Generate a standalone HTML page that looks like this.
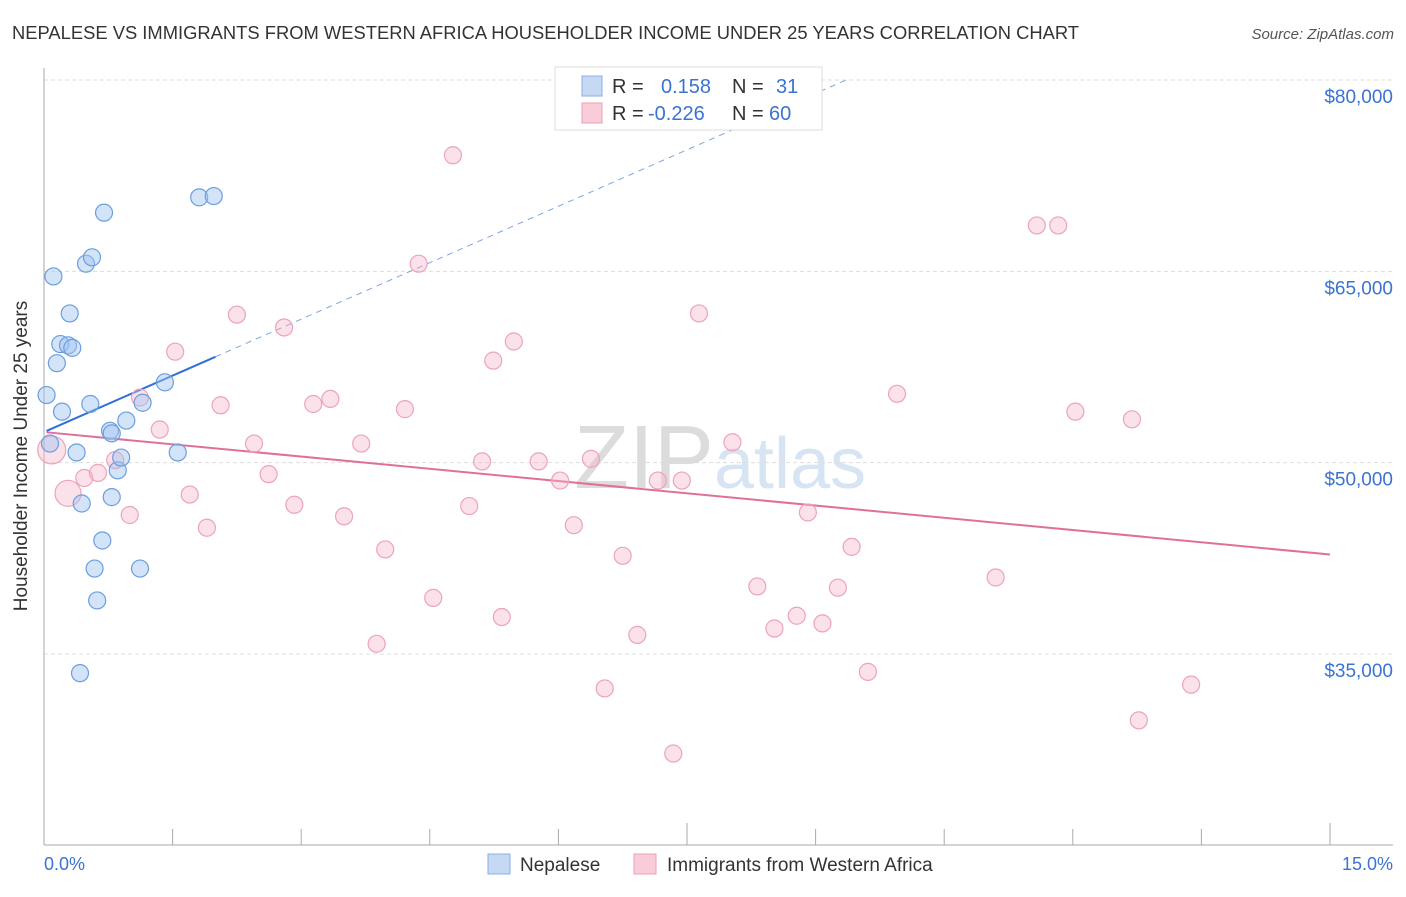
<!DOCTYPE html>
<html><head><meta charset="utf-8"><style>
body{margin:0;background:#fff;font-family:"Liberation Sans",sans-serif;}
svg text{font-family:"Liberation Sans",sans-serif;}
</style></head><body>
<svg width="1406" height="892" xmlns="http://www.w3.org/2000/svg">
<text x="12" y="39" font-size="18" fill="#333" textLength="1067" lengthAdjust="spacingAndGlyphs">NEPALESE VS IMMIGRANTS FROM WESTERN AFRICA HOUSEHOLDER INCOME UNDER 25 YEARS CORRELATION CHART</text>
<text x="1394" y="39" font-size="15" fill="#555" font-style="italic" text-anchor="end">Source: ZipAtlas.com</text>
<text x="720" y="488" font-size="90" fill="#e8e8e8" text-anchor="middle" font-family="Liberation Serif"><tspan fill="#dcdcdc">ZIP</tspan><tspan fill="#d6e4f4" font-family="Liberation Sans" font-size="72">atlas</tspan></text>
<g id="grid"></g>
<line x1="44" y1="68" x2="44" y2="845" stroke="#aaa"/>
<line x1="44" y1="845" x2="1393" y2="845" stroke="#aaa"/>
<g id="ticks"></g>
<text x="27" y="456" font-size="19" fill="#333" text-anchor="middle" transform="rotate(-90 27 456)">Householder Income Under 25 years</text>
<text x="44" y="870" font-size="18" fill="#3a73d1">0.0%</text>
<text x="1393" y="870" font-size="18" fill="#3a73d1" text-anchor="end">15.0%</text>
<g id="lines"></g>
<g id="points"></g>
<g>
<rect x="555" y="67" width="267" height="63" fill="#fff" stroke="#ddd"/>
<rect x="582" y="76" width="20" height="20" fill="#c5d9f4" stroke="#8ab0e6"/>
<rect x="582" y="103" width="20" height="20" fill="#f9ccd9" stroke="#eaa0b6"/>
<text x="612" y="93" font-size="20" fill="#333">R = <tspan fill="#3a73d1" x="661">0.158</tspan><tspan x="732">N = </tspan><tspan fill="#3a73d1" x="776">31</tspan></text>
<text x="612" y="120" font-size="20" fill="#333">R = <tspan fill="#3a73d1" x="648">-0.226</tspan><tspan x="732">N = </tspan><tspan fill="#3a73d1" x="769">60</tspan></text>
</g>
<g>
<rect x="488" y="854" width="22" height="20" fill="#c5d9f4" stroke="#8ab0e6"/>
<text x="520" y="871" font-size="19" fill="#333">Nepalese</text>
<rect x="634" y="854" width="22" height="20" fill="#f9ccd9" stroke="#eaa0b6"/>
<text x="667" y="871" font-size="19" fill="#333">Immigrants from Western Africa</text>
</g>
</svg>
<script>
const yTicks=[80000,65000,50000,35000];
const yTickLabels=["$80,000","$65,000","$50,000","$35,000"];
const xTicks=[0,1.5,3,4.5,6,7.5,9,10.5,12,13.5,15];
const nepX=[0.03,0.11,0.15,0.21,0.30,0.19,0.28,0.33,0.38,0.44,0.49,0.56,0.54,0.59,0.62,0.68,0.70,0.77,0.79,0.79,0.86,0.90,0.96,1.12,1.15,1.41,1.56,0.42,1.81,1.98,0.07];
const nepY=[55300,64600,57800,54000,61700,59300,59200,59000,50800,46800,65600,66100,54600,41700,39200,43900,69600,52500,47300,52300,49400,50400,53300,41700,54700,56300,50800,33500,70800,70900,51500];
const wafX=[0.09,0.28,0.47,0.63,0.83,1.00,1.12,1.35,1.53,1.70,1.90,2.06,2.25,2.45,2.62,2.80,2.92,3.14,3.34,3.50,3.70,3.88,3.98,4.21,4.37,4.54,4.77,4.96,5.11,5.24,5.34,5.48,5.77,6.02,6.18,6.38,6.54,6.75,6.92,7.16,7.44,7.64,8.03,8.32,8.52,8.78,8.91,9.08,9.26,9.42,9.61,9.95,11.10,11.58,11.83,12.03,12.69,12.77,13.38,7.34];
const wafY=[51000,47600,48800,49200,50200,45900,55100,52600,58700,47500,44900,54500,61600,51500,49100,60600,46700,54600,55000,45800,51500,35800,43200,54200,65600,39400,74100,46600,50100,58000,37900,59500,50100,48600,45100,50300,32300,42700,36500,48600,48600,61700,51600,40300,37000,38000,46100,37400,40200,43400,33600,55400,41000,68600,68600,54000,53400,29800,32600,27200];
const wafSize=[14,13];
const nepTrend=[52400,2950];
const wafTrend=[52400,-640];
const sx=v=>44+v/15*1286;
const sy=v=>80+(80000-v)*0.012756;
const NS="http://www.w3.org/2000/svg";
function mk(t,a,p){const e=document.createElementNS(NS,t);for(const k in a)e.setAttribute(k,a[k]);p.appendChild(e);return e;}
const grid=document.getElementById('grid');
yTicks.forEach((v,i)=>{
 const l=mk('line',{x1:44,x2:1393,y1:sy(v),y2:sy(v),stroke:'#ddd','stroke-dasharray':'4,3'},grid);
 
 
 const t=mk('text',{x:1393,y:sy(v)+23,'font-size':19,fill:'#3a73d1','text-anchor':'end'},grid);
 t.textContent=yTickLabels[i];
 
 
});
const tk=document.getElementById('ticks');
xTicks.forEach((v,i)=>{
 const h=(i==5||i==10)?22:16;
 const l=mk('line',{x1:sx(v),x2:sx(v),y1:845-h,y2:845,stroke:'#aaa'},tk);
 
 
});
const lg=document.getElementById('lines');
let l=mk('line',{x1:sx(0.03),y1:sy(nepTrend[0]+nepTrend[1]*0.03),x2:sx(2),y2:sy(nepTrend[0]+nepTrend[1]*2),stroke:'#2f6fd6','stroke-width':2},lg);


const xe=(80000-nepTrend[0])/nepTrend[1];
l=mk('line',{x1:sx(2),y1:sy(nepTrend[0]+nepTrend[1]*2),x2:sx(xe),y2:sy(80000),stroke:'#7fa6e0','stroke-width':1,'stroke-dasharray':'6,5'},lg);


l=mk('line',{x1:sx(0.03),y1:sy(wafTrend[0]+wafTrend[1]*0.03),x2:sx(15),y2:sy(wafTrend[0]+wafTrend[1]*15),stroke:'#e0709a','stroke-width':2},lg);


const pg=document.getElementById('points');
wafX.forEach((x,i)=>{
 const c=mk('circle',{cx:sx(x),cy:sy(wafY[i]),r:i<2?wafSize[i]:8.5,fill:'rgba(246,180,200,0.4)',stroke:'#eda3ba','stroke-width':1.2},pg);
 
 
});
nepX.forEach((x,i)=>{
 const c=mk('circle',{cx:sx(x),cy:sy(nepY[i]),r:8.5,fill:'rgba(160,195,240,0.45)',stroke:'#6b9ee0','stroke-width':1.2},pg);
 
 
});
</script>
</body></html>
